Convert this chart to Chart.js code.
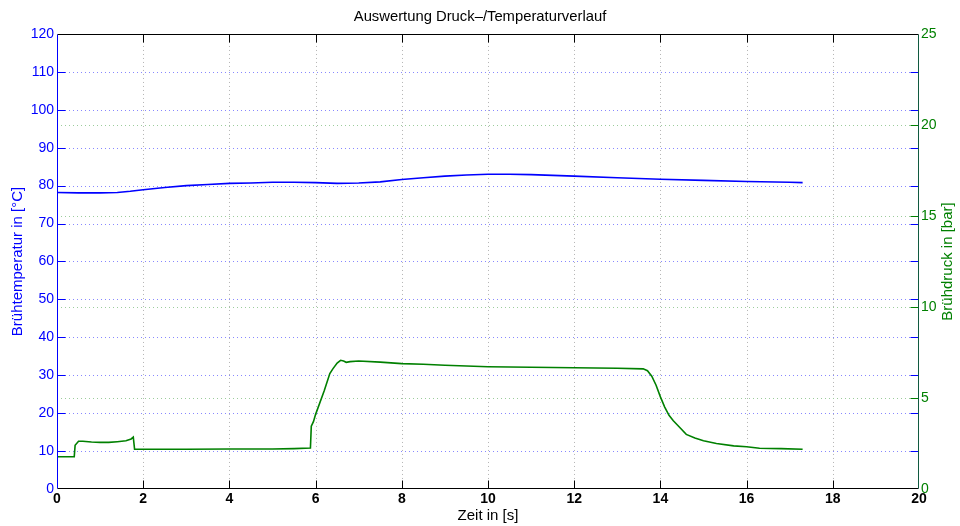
<!DOCTYPE html>
<html>
<head>
<meta charset="utf-8">
<script src="https://cdn.jsdelivr.net/npm/chart.js@4.4.1/dist/chart.umd.min.js"></script>
<style>
  html, body { margin: 0; padding: 0; background: #fff; }
  canvas { display: block; }
</style>
</head>
<body>
<canvas id="c" width="960" height="526"></canvas>
<script>
// ---- data ----
const tempTime   = [0, 0.5, 1.0, 1.4, 1.7, 2.0, 2.5, 3.0, 3.5, 4.0, 4.5, 5.0, 5.5, 6.0, 6.5, 7.0, 7.5, 8.0, 8.5, 9.0, 9.5, 10.0, 10.5, 11.0, 12.0, 13.0, 14.0, 15.0, 16.0, 17.0, 17.3];
const tempValues = [78.2, 78.1, 78.1, 78.2, 78.5, 78.9, 79.5, 80.0, 80.3, 80.6, 80.7, 80.9, 80.9, 80.8, 80.6, 80.7, 81.0, 81.6, 82.1, 82.5, 82.8, 83.0, 83.0, 82.9, 82.5, 82.1, 81.7, 81.4, 81.1, 80.9, 80.8];

const pressTime   = [0, 0.4, 0.42, 0.5, 0.6, 0.8, 1.0, 1.2, 1.4, 1.6, 1.72, 1.77, 1.8, 2.5, 3.0, 4.0, 5.0, 5.5, 5.88, 5.9, 5.95, 6.0, 6.2, 6.33, 6.4, 6.5, 6.58, 6.65, 6.71, 6.8, 7.0, 7.5, 8.0, 8.5, 9.0, 9.5, 10.0, 11.0, 12.0, 13.0, 13.6, 13.7, 13.8, 13.9, 14.0, 14.1, 14.2, 14.3, 14.4, 14.6, 14.8, 15.0, 15.3, 15.7, 16.0, 16.3, 16.8, 17.3];
const pressValues = [1.77, 1.77, 2.4, 2.62, 2.62, 2.58, 2.56, 2.56, 2.6, 2.65, 2.75, 2.85, 2.18, 2.18, 2.18, 2.2, 2.2, 2.22, 2.25, 3.45, 3.7, 4.1, 5.4, 6.34, 6.6, 6.92, 7.07, 7.03, 6.96, 7.0, 7.03, 6.97, 6.89, 6.85, 6.8, 6.76, 6.72, 6.69, 6.66, 6.63, 6.6, 6.5, 6.2, 5.7, 5.06, 4.5, 4.05, 3.75, 3.5, 3.0, 2.8, 2.65, 2.5, 2.37, 2.32, 2.24, 2.22, 2.18];

const xTicks     = [0, 2, 4, 6, 8, 10, 12, 14, 16, 18, 20];
const tempTicks  = [0, 10, 20, 30, 40, 50, 60, 70, 80, 90, 100, 110, 120];
const pressTicks = [0, 5, 10, 15, 20, 25];

const BLUE = '#0000ff';
const GREEN = '#008000';
Chart.defaults.font.family = "'Liberation Sans', Arial, Helvetica, sans-serif";

const tempData = tempTime.map((t, i) => ({ x: t, y: tempValues[i] }));
const pressData = pressTime.map((t, i) => ({ x: t, y: pressValues[i] }));

const decor = {
  id: 'decor',
  beforeDatasetsDraw(chart) {
    const { ctx, chartArea: a, scales: { x, y, y1 } } = chart;
    ctx.save();
    ctx.lineWidth = 1;
    ctx.setLineDash([1, 3]);
    // vertical grid
    ctx.strokeStyle = '#b4b4b4';
    xTicks.forEach(v => {
      if (v <= x.min || v >= x.max) return;
      const px = Math.round(x.getPixelForValue(v)) + 0.5;
      ctx.beginPath(); ctx.moveTo(px, a.top); ctx.lineTo(px, a.bottom); ctx.stroke();
    });
    // green horizontal grid
    ctx.strokeStyle = '#9ccc9c';
    pressTicks.forEach(v => {
      if (v <= y1.min || v >= y1.max) return;
      const py = Math.round(y1.getPixelForValue(v)) + 0.5;
      ctx.beginPath(); ctx.moveTo(a.left, py); ctx.lineTo(a.right, py); ctx.stroke();
    });
    // blue horizontal grid
    ctx.strokeStyle = '#8888ff';
    tempTicks.forEach(v => {
      if (v <= y.min || v >= y.max) return;
      const py = Math.round(y.getPixelForValue(v)) + 0.5;
      ctx.beginPath(); ctx.moveTo(a.left, py); ctx.lineTo(a.right, py); ctx.stroke();
    });
    ctx.restore();
  },
  afterDatasetsDraw(chart) {
    const { ctx, chartArea: a, scales: { x, y, y1 } } = chart;
    const L = Math.round(a.left) + 0.5, R = Math.round(a.right) - 0.5;
    const T = Math.round(a.top) + 0.5, B = Math.round(a.bottom) - 0.5;
    const tl = 8;
    ctx.save();
    ctx.lineWidth = 1;
    ctx.setLineDash([]);
    // x ticks top & bottom
    ctx.strokeStyle = '#000';
    xTicks.forEach(v => {
      if (v <= x.min || v >= x.max) return;
      const px = Math.round(x.getPixelForValue(v)) + 0.5;
      ctx.beginPath();
      ctx.moveTo(px, B); ctx.lineTo(px, B - tl);
      ctx.moveTo(px, T); ctx.lineTo(px, T + tl);
      ctx.stroke();
    });
    // blue ticks both sides
    ctx.strokeStyle = BLUE;
    tempTicks.forEach(v => {
      if (v <= y.min || v >= y.max) return;
      const py = Math.round(y.getPixelForValue(v)) + 0.5;
      ctx.beginPath();
      ctx.moveTo(L, py); ctx.lineTo(L + tl, py);
      ctx.moveTo(R, py); ctx.lineTo(R - tl, py);
      ctx.stroke();
    });
    // green ticks right side
    ctx.strokeStyle = GREEN;
    pressTicks.forEach(v => {
      if (v <= y1.min || v >= y1.max) return;
      const py = Math.round(y1.getPixelForValue(v)) + 0.5;
      ctx.beginPath();
      ctx.moveTo(R, py); ctx.lineTo(R - tl, py);
      ctx.stroke();
    });
    // frame
    ctx.strokeStyle = '#000';
    ctx.beginPath();
    ctx.moveTo(L, T); ctx.lineTo(R, T);
    ctx.moveTo(L, B); ctx.lineTo(R, B);
    ctx.stroke();
    ctx.strokeStyle = BLUE;
    ctx.beginPath(); ctx.moveTo(L, T); ctx.lineTo(L, B); ctx.stroke();
    ctx.strokeStyle = '#105a40';
    ctx.beginPath(); ctx.moveTo(R, T); ctx.lineTo(R, B); ctx.stroke();
    // right axis title (reads bottom to top)
    ctx.fillStyle = GREEN;
    ctx.font = "15px 'Liberation Sans', Arial, sans-serif";
    ctx.textAlign = 'center';
    ctx.textBaseline = 'middle';
    ctx.translate(948, (a.top + a.bottom) / 2);
    ctx.rotate(-Math.PI / 2);
    ctx.fillText('Brühdruck in [bar]', 0, 0);
    ctx.restore();
  }
};

new Chart(document.getElementById('c'), {
  type: 'line',
  data: {
    datasets: [
      { label: 'Brühtemperatur', data: tempData, yAxisID: 'y', borderColor: BLUE, borderWidth: 1.6, pointRadius: 0, tension: 0, fill: false },
      { label: 'Brühdruck', data: pressData, yAxisID: 'y1', borderColor: GREEN, borderWidth: 1.6, pointRadius: 0, tension: 0, fill: false }
    ]
  },
  options: {
    responsive: false,
    animation: false,
    devicePixelRatio: 1,
    layout: { padding: 0 },
    plugins: {
      legend: { display: false },
      tooltip: { enabled: false },
      title: {
        display: true,
        text: 'Auswertung Druck–/Temperaturverlauf',
        color: '#000',
        font: { size: 14.8, weight: 'normal' },
        padding: { top: 8.1, bottom: 8.1 }
      }
    },
    scales: {
      x: {
        type: 'linear', min: 0, max: 20,
        afterBuildTicks: s => { s.ticks = xTicks.map(v => ({ value: v })); },
        ticks: { color: '#000', font: { size: 14, weight: 'bold' }, padding: 2, maxRotation: 0, autoSkip: false },
        grid: { display: false, drawTicks: false },
        border: { display: false },
        title: { display: true, text: 'Zeit in [s]', color: '#000', font: { size: 15 }, padding: { top: 0, bottom: 1 } },
        afterFit: s => { s.height = 37; }
      },
      y: {
        type: 'linear', position: 'left', min: 0, max: 120,
        afterBuildTicks: s => { s.ticks = tempTicks.map(v => ({ value: v })); },
        ticks: { color: BLUE, font: { size: 14 }, padding: 3, autoSkip: false },
        grid: { display: false, drawTicks: false },
        border: { display: false },
        title: { display: true, text: 'Brühtemperatur in [°C]', color: BLUE, font: { size: 15 }, padding: { top: 9, bottom: 0 } },
        afterFit: s => { s.width = 57; }
      },
      y1: {
        type: 'linear', position: 'right', min: 0, max: 25,
        afterBuildTicks: s => { s.ticks = pressTicks.map(v => ({ value: v })); },
        ticks: { color: GREEN, font: { size: 14 }, padding: 2, autoSkip: false },
        grid: { display: false, drawTicks: false },
        border: { display: false },
        afterFit: s => { s.width = 41; }
      }
    }
  },
  plugins: [decor]
});
</script>
</body>
</html>
